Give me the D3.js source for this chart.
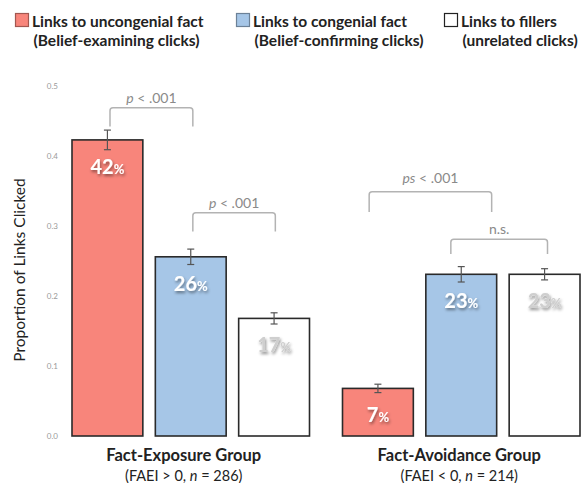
<!DOCTYPE html>
<html><head><meta charset="utf-8">
<script src="https://cdn.jsdelivr.net/npm/d3@7"></script>
<style>
body{margin:0;background:#fff;}
svg{display:block;font-family:Lato,"Open Sans",sans-serif;}
</style></head>
<body>
<svg id="chart" width="581" height="483"></svg>
<script>
// ---- data ----
const groups = ["Fact-Exposure Group", "Fact-Avoidance Group"];
const groupSub = [["(FAEI > 0, ", "n", " = 286)"], ["(FAEI < 0, ", "n", " = 214)"]];
const seriesNames = ["Links to uncongenial fact", "Links to congenial fact", "Links to fillers"];
const seriesSub = ["(Belief-examining clicks)", "(Belief-confirming clicks)", "(unrelated clicks)"];
const uncongenial = [0.423, 0.068];
const congenial = [0.256, 0.231];
const fillers = [0.168, 0.231];
const errUncongenial = [0.014, 0.006];
const errCongenial = [0.011, 0.011];
const errFillers = [0.008, 0.008];
const pctLabels = [["42", "26", "17"], ["7", "23", "23"]];
const yTicks = [0, 0.1, 0.2, 0.3, 0.4, 0.5];
// brackets: group, left pos, right pos (in bar steps), top value, leg value, label
const brackets = [
  {g: 0, l: 0.456, r: 1.45, top: 0.469, leg: 0.442, label: [["p", true], [" < .001", false]], dy: 9},
  {g: 0, l: 1.45, r: 2.44, top: 0.319, leg: 0.292, label: [["p", true], [" < .001", false]], dy: 9},
  {g: 1, l: 0.32, r: 1.79, top: 0.349, leg: 0.320, label: [["ps", true], [" < .001", false]], dy: 13},
  {g: 1, l: 1.30, r: 2.46, top: 0.281, leg: 0.260, label: [["n.s.", false]], dy: 9}
];

const colors = ["#f8857b", "#a6c6e7", "#ffffff"];
const textColors = ["#ffffff", "#ffffff", "#cfcfcf"];

const svg = d3.select("#chart");
const defs = svg.append("defs");
const f = defs.append("filter").attr("id", "shadow").attr("x", "-30%").attr("y", "-30%").attr("width", "160%").attr("height", "160%");
f.append("feDropShadow").attr("dx", 1).attr("dy", 2).attr("stdDeviation", 1.5).attr("flood-color", "#000").attr("flood-opacity", 0.45);

const y = d3.scaleLinear().domain([0, 0.5]).range([436, 86]);
const x0 = d3.scaleBand().domain(groups).range([72, 580]).paddingInner(0.122).paddingOuter(0);
const x1 = d3.scaleBand().domain([0, 1, 2]).range([0, x0.bandwidth()]).paddingInner(0.15).paddingOuter(0);

const vals = [uncongenial, congenial, fillers];
const errs = [errUncongenial, errCongenial, errFillers];
const data = [];
groups.forEach((g, gi) => {
  vals.forEach((s, si) => data.push({g, gi, si, v: s[gi], e: errs[si][gi], lab: pctLabels[gi][si]}));
});

// y axis
const yAxis = d3.axisLeft(y).tickValues(yTicks).tickFormat(d3.format(".1f")).tickSize(0).tickPadding(2);
const ya = svg.append("g").attr("transform", "translate(60,0)").call(yAxis);
ya.select(".domain").remove();
ya.selectAll("text").attr("fill", "#9a9a9a").attr("font-size", 8).attr("font-family", "Lato, sans-serif");

svg.append("text").attr("transform", "translate(25,270) rotate(-90)").attr("text-anchor", "middle")
  .attr("font-size", 15.5).attr("fill", "#222").text("Proportion of Links Clicked");

// bars
const bx = d => x0(d.g) + x1(d.si);
svg.append("g").selectAll("rect").data(data).join("rect")
  .attr("x", bx).attr("y", d => y(d.v)).attr("width", x1.bandwidth()).attr("height", d => y(0) - y(d.v))
  .attr("fill", d => colors[d.si]).attr("stroke", "#2a2a2a").attr("stroke-width", 1.6);

// error bars
const eb = svg.append("g").attr("stroke", "#555").attr("stroke-width", 1.2);
data.forEach(d => {
  const cx = bx(d) + x1.bandwidth() / 2;
  eb.append("line").attr("x1", cx).attr("x2", cx).attr("y1", y(d.v + d.e)).attr("y2", y(d.v - d.e));
  eb.append("line").attr("x1", cx - 3.5).attr("x2", cx + 3.5).attr("y1", y(d.v + d.e)).attr("y2", y(d.v + d.e));
  eb.append("line").attr("x1", cx - 3.5).attr("x2", cx + 3.5).attr("y1", y(d.v - d.e)).attr("y2", y(d.v - d.e));
});

// percent labels
const pl = svg.append("g").attr("filter", "url(#shadow)");
data.forEach(d => {
  const cx = bx(d) + x1.bandwidth() / 2;
  const t = pl.append("text").attr("x", cx).attr("y", y(d.v) + 34).attr("text-anchor", "middle")
    .attr("font-weight", 700).attr("fill", textColors[d.si]);
  t.append("tspan").attr("font-size", 20).text(d.lab);
  t.append("tspan").attr("font-size", 13).text("%");
});

// brackets
const step = x1.step();
const bg = svg.append("g");
brackets.forEach(b => {
  const xl = x0(groups[b.g]) + b.l * step, xr = x0(groups[b.g]) + b.r * step;
  const yt = y(b.top), yl = y(b.leg), r = 3;
  bg.append("path").attr("fill", "none").attr("stroke", "#b3b3b3").attr("stroke-width", 1.5)
    .attr("d", `M${xl},${yl} L${xl},${yt + r} Q${xl},${yt} ${xl + r},${yt} L${xr - r},${yt} Q${xr},${yt} ${xr},${yt + r} L${xr},${yl}`);
  const t = bg.append("text").attr("x", (xl + xr) / 2).attr("y", yt - b.dy + 4).attr("text-anchor", "middle")
    .attr("font-size", 14).attr("fill", "#8a8a8a");
  b.label.forEach(([s, it]) => t.append("tspan").attr("font-style", it ? "italic" : "normal").text(s));
});

// group labels
groups.forEach((g, gi) => {
  const cx = x0(g) + x0.bandwidth() / 2 + (gi === 0 ? -7 : -2);
  svg.append("text").attr("x", cx).attr("y", 461).attr("text-anchor", "middle")
    .attr("font-size", 16.5).attr("font-weight", 700).attr("fill", "#222").text(g);
  const t = svg.append("text").attr("x", cx).attr("y", 481).attr("text-anchor", "middle")
    .attr("font-size", 14.5).attr("fill", "#222");
  groupSub[gi].forEach((s, i) => t.append("tspan").attr("font-style", i === 1 ? "italic" : "normal").text(s));
});

// legend
const legX = [15, 236, 444];
seriesNames.forEach((s, i) => {
  const lg = svg.append("g").attr("transform", `translate(${legX[i]},0)`);
  lg.append("rect").attr("x", 0.5).attr("y", 13.5).attr("width", 13).attr("height", 13)
    .attr("fill", colors[i]).attr("stroke", i === 2 ? "#222" : d3.color(colors[i]).darker(1.2)).attr("stroke-width", 1.2);
  lg.append("text").attr("x", 17).attr("y", 27).attr("font-size", 15.5).attr("font-weight", 700).attr("fill", "#222").text(s);
  lg.append("text").attr("x", 18.5).attr("y", 46).attr("font-size", 15.5).attr("font-weight", 700).attr("fill", "#222").text(seriesSub[i]);
});
</script>
</body></html>
